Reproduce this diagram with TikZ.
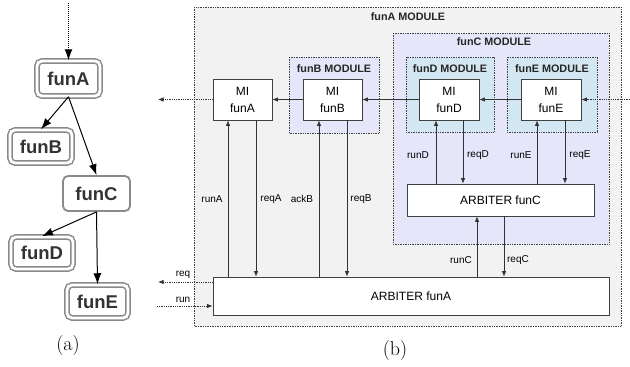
\documentclass[tikz,border=0pt]{standalone}
\usepackage{fontspec}
\newfontfamily\arial{Liberation Sans}
\usetikzlibrary{arrows.meta,shadows}
\definecolor{modgray}{HTML}{F2F2F2}
\definecolor{lav}{HTML}{E6E6FA}
\definecolor{lblue}{HTML}{D3E7F2}
\definecolor{edge}{HTML}{404040}
\definecolor{fgray}{HTML}{8A8A8A}
\definecolor{ftext}{HTML}{333333}
\begin{document}
\begin{tikzpicture}[x=1pt,y=-1pt,
  mod/.style={draw=edge, densely dotted, line width=0.7pt},
  modtitle/.style={font=\arial\bfseries\fontsize{10.8}{12}\selectfont, text=black!85, inner sep=0pt},
  blk/.style={draw=edge, fill=white, line width=0.8pt, inner sep=0pt, align=center,
              font=\arial\fontsize{12}{17}\selectfont,
              general shadow={shadow xshift=0.9pt, shadow yshift=-0.9pt, fill=black!55}},
  mibox/.style={blk, minimum width=59pt, minimum height=41pt},
  sig/.style={font=\arial\fontsize{10}{12}\selectfont, inner sep=0pt},
  wire/.style={draw=black!80, line width=0.7pt},
  arr/.style={wire, -{Latex[length=5.5pt,width=4.5pt]}},
  dotarr/.style={draw=black!80, line width=0.8pt, densely dotted, -{Latex[length=5.5pt,width=4.5pt]}},
  fn/.style={draw=fgray, rounded corners=5pt, inner sep=0pt,
             font=\arial\bfseries\fontsize{18.5}{20}\selectfont, text=ftext},
  fndbl/.style={fn, line width=1.5pt, double=white, double distance=2.8pt},
  fnsgl/.style={fn, line width=1.8pt},
  tarr/.style={draw=black, line width=1pt, -{Latex[length=11pt,width=8pt]}},
  capt/.style={font=\fontsize{20}{22}\selectfont, inner sep=0pt}
]
\useasboundingbox (0,0) rectangle (630,367);

% ---------- (a) call tree ----------
\node[fndbl, minimum width=63pt, minimum height=35pt] (fa) at (68.5,78.5) {funA};
\node[fndbl, minimum width=62pt, minimum height=33pt] (fb) at (41,146.5) {funB};
\node[fnsgl, minimum width=67pt, minimum height=35pt] (fc) at (96.5,193.5) {funC};
\node[fndbl, minimum width=62pt, minimum height=32pt] (fd) at (42,253) {funD};
\node[fndbl, minimum width=61pt, minimum height=33pt] (fe) at (97.5,301.5) {funE};
\coordinate (topin) at (68.5,3);
\draw[tarr, densely dotted] (topin) -- (fa.north);
\draw[tarr] (fa.south) -- (fb.north);
\draw[tarr] (fa.south) -- (fc.north);
\draw[tarr] (fc.south) -- (fd.north);
\draw[tarr] (fc.south) -- (fe.north);
\node[capt] (capa) at (68,346) {(a)};

% ---------- (b) modules ----------
\draw[mod, fill=modgray] (194,7) rectangle (621,326);
\node[modtitle] (tA) at (408,17) {funA MODULE};
\draw[mod, fill=lav] (393,33) rectangle (609,244);
\node[modtitle] (tC) at (494,42) {funC MODULE};
\draw[mod, fill=lav] (289,57) rectangle (379,133);
\node[modtitle] (tB) at (334,69) {funB MODULE};
\draw[mod, fill=lblue] (406,57) rectangle (494,132);
\node[modtitle] (tD) at (450,69) {funD MODULE};
\draw[mod, fill=lblue] (507,57) rectangle (597,132);
\node[modtitle] (tE) at (552,69) {funE MODULE};

\node[mibox] (miA) at (242.5,99.5) {MI\\funA};
\node[mibox] (miB) at (332.5,99.5) {MI\\funB};
\node[mibox, minimum width=60pt] (miD) at (449,99.5) {MI\\funD};
\node[mibox, minimum width=60pt] (miE) at (551,99.5) {MI\\funE};
\node[blk, minimum width=187pt, minimum height=32pt] (arbC) at (500.5,200) {ARBITER funC};
\node[blk, minimum width=396pt, minimum height=38pt] (arbA) at (411,296) {ARBITER funA};

% horizontal chain
\coordinate (outL) at (158,99.5);
\coordinate (inR) at (630,99.5);
\draw[dotarr] (miA.west) -- (outL);
\draw[arr] (miB.west) -- (miA.east);
\draw[arr] (miD.west) -- (miB.east);
\draw[arr] (miE.west) -- (miD.east);
\draw[dotarr] (inR) -- (miE.east);

% req / run
\coordinate (reqL) at (158,282);
\coordinate (runL) at (157,306);
\draw[dotarr] (arbA.west |- reqL) -- (reqL);
\draw[dotarr] (runL) -- (arbA.west |- runL);
\node[sig] (lreq) at (183,275) {req};
\node[sig] (lrun) at (183,300) {run};

% vertical signals funA level
\draw[arr] (228,0 |- arbA.north) -- (228,0 |- miA.south);
\draw[arr] (256,0 |- miA.south) -- (256,0 |- arbA.north);
\draw[arr] (319,0 |- arbA.north) -- (319,0 |- miB.south);
\draw[arr] (347,0 |- miB.south) -- (347,0 |- arbA.north);
\node[sig] (lrunA) at (212,199) {runA};
\node[sig] (lreqA) at (271,199) {reqA};
\node[sig] (lackB) at (302,199) {ackB};
\node[sig] (lreqB) at (361,199) {reqB};

% funC level
\draw[arr] (436,0 |- arbC.north) -- (436,0 |- miD.south);
\draw[arr] (463,0 |- miD.south) -- (463,0 |- arbC.north);
\draw[arr] (537,0 |- arbC.north) -- (537,0 |- miE.south);
\draw[arr] (565,0 |- miE.south) -- (565,0 |- arbC.north);
\node[sig] (lrunD) at (418,155) {runD};
\node[sig] (lreqD) at (478,155) {reqD};
\node[sig] (lrunE) at (521,155) {runE};
\node[sig] (lreqE) at (580,155) {reqE};

\draw[arr] (477,0 |- arbA.north) -- (477,0 |- arbC.south);
\draw[arr] (504,0 |- arbC.south) -- (504,0 |- arbA.north);
\node[sig] (lrunC) at (461,260) {runC};
\node[sig] (lreqC) at (518,260) {reqC};

\node[capt] (capb) at (395,351) {(b)};
\end{tikzpicture}
\end{document}
